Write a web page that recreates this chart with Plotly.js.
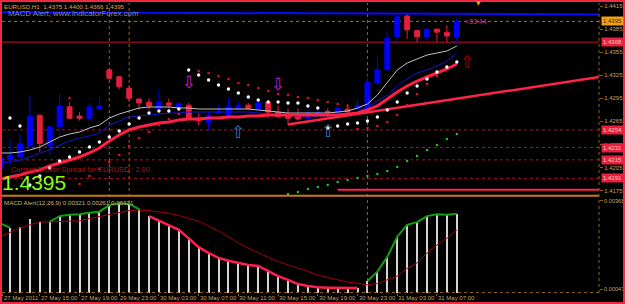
<!DOCTYPE html>
<html><head><meta charset="utf-8">
<script src="https://cdn.plot.ly/plotly-3.0.1.min.js"></script>
<style>html,body{margin:0;padding:0;background:#000;}#chart{width:625px;height:304px;}</style>
</head><body><div id="chart"></div>
<script>
// H1 bars, index -1 .. 45 (27 May 2011 11:00 ... 31 May 2011 08:00)
const openP  = [1.4204,1.4215,1.4219,1.4233,1.4273,1.4233,1.4258,1.4284,1.4272,1.4269,1.4282,1.4332,1.4323,1.4308,1.4294,1.4290,1.4282,1.4289,1.4284,1.4286,1.4269,1.4264,1.4276,1.4272,1.4282,1.4286,1.4281,1.4290,1.4277,1.4272,1.4271,1.4269,1.4276,1.4278,1.4277,1.4281,1.4281,1.4280,1.4315,1.4332,1.4375,1.4402,1.4383,1.4375,1.4385,1.4381,1.4375];
const highP  = [1.4221,1.4241,1.4249,1.4299,1.4274,1.4258,1.4302,1.4290,1.4277,1.4289,1.4297,1.4334,1.4324,1.4312,1.4295,1.4295,1.4306,1.4295,1.4290,1.4289,1.4276,1.4277,1.4285,1.4295,1.4290,1.4289,1.4293,1.4292,1.4286,1.4282,1.4282,1.4280,1.4281,1.4282,1.4285,1.4288,1.4293,1.4325,1.4351,1.4383,1.4401,1.4406,1.4384,1.4385,1.4385,1.4390,1.4400];
const lowP   = [1.4202,1.4208,1.4217,1.4233,1.4225,1.4221,1.4245,1.4268,1.4266,1.4269,1.4281,1.4319,1.4307,1.4290,1.4280,1.4280,1.4282,1.4282,1.4280,1.4268,1.4260,1.4255,1.4275,1.4271,1.4282,1.4280,1.4281,1.4269,1.4269,1.4260,1.4266,1.4268,1.4274,1.4271,1.4276,1.4276,1.4280,1.4279,1.4315,1.4332,1.4366,1.4372,1.4368,1.4370,1.4368,1.4368,1.4366];
const closeP = [1.4217,1.4221,1.4236,1.4272,1.4236,1.4258,1.4285,1.4269,1.4269,1.4284,1.4285,1.4321,1.4310,1.4295,1.4289,1.4285,1.4290,1.4286,1.4288,1.4269,1.4266,1.4272,1.4277,1.4284,1.4285,1.4282,1.4289,1.4277,1.4271,1.4269,1.4268,1.4276,1.4277,1.4277,1.4282,1.4278,1.4286,1.4316,1.4332,1.4373,1.4401,1.4384,1.4375,1.4385,1.4381,1.4376,1.4395];

const maFast = [1.42239,1.42239,1.42252,1.42278,1.42317,1.42382,1.42447,1.42486,1.42512,1.42564,1.42603,1.42694,1.42746,1.42785,1.42824,1.42837,1.42837,1.42837,1.42824,1.42824,1.42811,1.42811,1.42811,1.42811,1.42811,1.42811,1.42798,1.42785,1.42772,1.42759,1.42759,1.42759,1.42759,1.42759,1.42772,1.42785,1.42824,1.42876,1.42993,1.43162,1.43318,1.43409,1.43461,1.43513,1.43539,1.43565,1.43630];
const maMid  = [1.42109,1.42122,1.42148,1.42187,1.42239,1.42278,1.42343,1.42395,1.42434,1.42460,1.42499,1.42603,1.42655,1.42707,1.42720,1.42733,1.42746,1.42759,1.42759,1.42772,1.42772,1.42772,1.42772,1.42772,1.42772,1.42772,1.42759,1.42746,1.42733,1.42733,1.42720,1.42720,1.42720,1.42720,1.42733,1.42746,1.42772,1.42837,1.42915,1.42993,1.43110,1.43201,1.43279,1.43318,1.43370,1.43435,1.43539];
const maSlow = [1.41901,1.41927,1.41953,1.41992,1.42018,1.42070,1.42109,1.42148,1.42187,1.42239,1.42304,1.42395,1.42473,1.42538,1.42577,1.42603,1.42629,1.42642,1.42668,1.42681,1.42681,1.42694,1.42694,1.42707,1.42707,1.42720,1.42720,1.42733,1.42733,1.42733,1.42733,1.42733,1.42733,1.42733,1.42733,1.42746,1.42759,1.42798,1.42850,1.42941,1.43032,1.43110,1.43175,1.43227,1.43279,1.43331,1.43396];

const sarWhite = [1.42772,1.42694,1.42590,1.41823,1.41940,1.42044,1.42135,1.42187,1.42252,1.42317,1.42382,1.42447,1.42525,1.42616,1.42694,1.42759,1.42785,1.42785,1.42811,1.43318,1.43253,1.43188,1.43123,1.43071,1.43019,1.42967,1.42928,1.42902,1.42902,1.42889,1.42889,1.42850,1.42824,1.42564,1.42590,1.42616,1.42629,1.42655,1.42707,1.42798,1.42902,1.43019,1.43110,1.43201,1.43292,1.43357,1.43422];
const sarRed = [null,null,null,null,null,null,null,1.42954,1.41836,1.41940,1.42031,1.42122,1.42213,1.42330,1.42434,1.42512,1.42603,1.42681,1.42746,null,1.43305,1.43279,1.43240,1.43201,1.43149,1.43123,1.43084,1.43045,1.43006,1.42993,1.42967,1.42954,1.42928,1.42902,1.42876,1.42850,1.42551,1.42564,1.42590,1.42642,1.42733,1.42863,1.43006,1.43136,1.43240,null,null];
const greenDots = [null,null,null,null,null,null,null,null,null,null,null,null,null,null,null,null,null,null,null,null,null,null,null,null,null,null,null,null,null,1.41706,1.41732,1.41771,1.41797,1.41823,1.41862,1.41888,1.41914,1.41940,1.41966,1.42005,1.42057,1.42135,1.42200,1.42278,1.42343,1.42421,1.42486];

const macdMain = [0.00286,0.00270,0.00273,0.00300,0.00290,0.00292,0.00312,0.00317,0.00319,0.00324,0.00328,0.00352,0.00359,0.00356,0.00337,0.00312,0.00295,0.00280,0.00262,0.00231,0.00199,0.00178,0.00160,0.00150,0.00143,0.00134,0.00131,0.00112,0.00094,0.00080,0.00065,0.00058,0.00053,0.00052,0.00051,0.00051,0.00051,0.00076,0.00110,0.00164,0.00237,0.00280,0.00290,0.00312,0.00319,0.00317,0.00321];
const macdSignal = [0.00237,0.00254,0.00269,0.00280,0.00291,0.00291,0.00292,0.00294,0.00295,0.00303,0.00310,0.00318,0.00326,0.00332,0.00334,0.00332,0.00327,0.00322,0.00314,0.00305,0.00294,0.00276,0.00258,0.00236,0.00214,0.00196,0.00178,0.00162,0.00147,0.00134,0.00123,0.00111,0.00098,0.00089,0.00080,0.00072,0.00068,0.00062,0.00067,0.00080,0.00094,0.00122,0.00142,0.00177,0.00207,0.00231,0.00261];
const macdState = ['g','g','','','','g','g','g','g','g','g','g','g','g','g','r','r','r','r','r','r','r','r','r','r','r','r','r','r','r','r','r','r','r','r','r','r','g','g','g','g','g','g','g','g','g','g'];

const xTickIdx  = [-0.75, 3, 7, 11, 15, 19, 23, 27, 31, 35, 39, 43];
const xTickText = ['27 May 2011','27 May 15:00','27 May 19:00','29 May 23:00','30 May 03:00','30 May 07:00','30 May 11:00','30 May 15:00','30 May 19:00','30 May 23:00','31 May 03:00','31 May 07:00'];
const priceTicks = [1.4415,1.4385,1.4355,1.4325,1.4295,1.4265,1.4235,1.4205,1.4175];
const macdTicks = [0.00368, 0.00047];
const daySeparators = [10, 12, 36];

const sellIdx = [18, 27];   const sellPrice = [1.43168, 1.43136];
const buyIdx  = [23, 32];   const buyPrice  = [1.42518, 1.42525];
const exitIdx = [46];       const exitPrice = [1.43428];

const bidPrice = 1.4395;
const redLevel = 1.4368;
const dashedLevels = [1.4254, 1.4231, 1.4215, 1.4191];
const blueLineIdx = [-1, 60];   const blueLinePrice = [1.4407, 1.4404];
const lowLineIdx = [33, 60];    const lowLinePrice = [1.4176, 1.4176];
const trendIdx = [28, 60];      const trendPrice = [1.4261, 1.4324];
const countdownIdx = 45.6;      const countdownText = '<33:44';

const bars = openP.map((_, i) => i - 1);
const FONT = 'Liberation Sans, Arial, sans-serif';

const traces = [
  {type:'candlestick', x:bars, open:openP, high:highP, low:lowP, close:closeP, xaxis:'x', yaxis:'y',
   whiskerwidth:0,
   increasing:{line:{color:'#0000ff', width:1}, fillcolor:'#0000ff'},
   decreasing:{line:{color:'#e61e3c', width:1}, fillcolor:'#e61e3c'}, hoverinfo:'skip'},
  {type:'scatter', mode:'lines', x:blueLineIdx, y:blueLinePrice, line:{color:'#0a0aff', width:2}, yaxis:'y'},
  {type:'scatter', mode:'lines', x:lowLineIdx, y:lowLinePrice, line:{color:'#ff2050', width:2}, yaxis:'y'},
  {type:'scatter', mode:'lines', x:trendIdx, y:trendPrice, line:{color:'#ff2448', width:2.5}, yaxis:'y'},
  {type:'scatter', mode:'lines', x:bars, y:maFast, line:{color:'#c0c0c0', width:1}, yaxis:'y'},
  {type:'scatter', mode:'lines', x:bars, y:maMid, line:{color:'#1414d0', width:1}, yaxis:'y'},
  {type:'scatter', mode:'lines', x:bars, y:maSlow, line:{color:'#ff1f44', width:3}, yaxis:'y'},
  {type:'scatter', mode:'markers', x:bars, y:sarRed, marker:{color:'#e0102c', size:2.6}, yaxis:'y'},
  {type:'scatter', mode:'markers', x:bars, y:sarWhite, marker:{color:'#ffffff', size:3.4}, yaxis:'y'},
  {type:'scatter', mode:'markers', x:bars, y:greenDots, marker:{color:'#22c822', size:2.4}, yaxis:'y'},
  {type:'bar', x:bars, y:macdMain, width:0.2, marker:{color:'#d4d4d4', line:{width:0}}, xaxis:'x', yaxis:'y2'},
  {type:'scatter', mode:'lines', x:bars, y:macdSignal, line:{color:'#a0000c', width:1}, yaxis:'y2'},
  {type:'scatter', mode:'lines', x:bars, y:macdMain.map((v,i)=> macdState[i]==='g' ? v : null), line:{color:'#10a010', width:2}, yaxis:'y2', connectgaps:false},
  {type:'scatter', mode:'lines', x:bars, y:macdMain.map((v,i)=> macdState[i]==='r' ? v : null), line:{color:'#ff2050', width:2.5}, yaxis:'y2', connectgaps:false}
];

// pixel helpers for paper-placed decorations (plot area x 2..599, y 3..293)
const px = v => (v - 2) / 597;
const py = v => (293 - v) / 290;

const shapes = [];
daySeparators.forEach(s => shapes.push({type:'line', xref:'x', yref:'paper', x0:s, x1:s, y0:0, y1:1, layer:'below', line:{color:'#9a6418', width:1, dash:'dot'}}));
shapes.push({type:'line', xref:'paper', yref:'y', x0:0, x1:1, y0:bidPrice, y1:bidPrice, layer:'below', line:{color:'#a87420', width:1, dash:'dot'}});
shapes.push({type:'line', xref:'paper', yref:'y', x0:0, x1:1, y0:redLevel, y1:redLevel, layer:'below', line:{color:'#c8102e', width:1}});
dashedLevels.forEach(l => shapes.push({type:'line', xref:'paper', yref:'y', x0:0, x1:1, y0:l, y1:l, layer:'below', line:{color:'#b0102a', width:1, dash:'3px,3px'}}));
shapes.push({type:'line', xref:'paper', yref:'paper', x0:0, x1:1, y0:py(195.8), y1:py(195.8), line:{color:'#c87814', width:2}});
shapes.push({type:'line', xref:'paper', yref:'paper', x0:1, x1:1, y0:0, y1:1, line:{color:'#8a6020', width:1, dash:'dot'}});
shapes.push({type:'line', xref:'paper', yref:'paper', x0:0, x1:1, y0:py(292.5), y1:py(292.5), line:{color:'#8a6020', width:1, dash:'dot'}});
shapes.push({type:'rect', xref:'paper', yref:'paper', x0:px(1), x1:px(624), y0:py(303), y1:py(1), line:{color:'#f02840', width:2}});

const annotations = [
  {xref:'paper', yref:'paper', x:px(2), y:py(6.3), xanchor:'left', yanchor:'middle', showarrow:false, text:'EURUSD,H1  1.4375 1.4400 1.4366 1.4395', font:{family:FONT, size:6.2, color:'#e0a040'}},
  {xref:'paper', yref:'paper', x:px(6), y:py(13.3), xanchor:'left', yanchor:'middle', showarrow:false, text:'MACD Alert, www.IndicatorForex.com', font:{family:FONT, size:7.8, color:'#8088b4'}},
  {xref:'paper', yref:'paper', x:px(9), y:py(169.5), xanchor:'left', yanchor:'middle', showarrow:false, text:'Current Broker Spread for EURUSD : 2.00', font:{family:FONT, size:7.4, color:'#a81818'}},
  {xref:'paper', yref:'paper', x:px(0), y:py(182), xanchor:'left', yanchor:'middle', showarrow:false, text:'1.4395', font:{family:FONT, size:21, color:'#84ff10'}},
  {xref:'paper', yref:'paper', x:px(2), y:py(202.7), xanchor:'left', yanchor:'middle', showarrow:false, text:'MACD Alert(12,26,9) 0.00321 0.00261 0.00321', font:{family:FONT, size:6.2, color:'#ccb078'}},
  {xref:'x', yref:'y', x:countdownIdx, y:bidPrice, xanchor:'left', yanchor:'middle', showarrow:false, text:countdownText, font:{family:FONT, size:7, color:'#b838b8'}},
  {xref:'paper', yref:'paper', x:px(478), y:py(2.5), xanchor:'center', yanchor:'middle', showarrow:false, text:'▼', font:{family:'DejaVu Sans', size:6, color:'#f0a000'}},
  {xref:'paper', yref:'y', x:px(601), y:bidPrice, xanchor:'left', yanchor:'middle', showarrow:false, text:bidPrice.toFixed(4), bgcolor:'#f0a018', borderpad:1, font:{family:FONT, size:6, color:'#4a2a00'}},
  {xref:'paper', yref:'y', x:px(601), y:redLevel, xanchor:'left', yanchor:'middle', showarrow:false, text:redLevel.toFixed(4), bgcolor:'#e8203c', borderpad:1, font:{family:FONT, size:6, color:'#ffc8c8'}}
];
dashedLevels.forEach(l => annotations.push({xref:'paper', yref:'y', x:px(601), y:l, xanchor:'left', yanchor:'middle', showarrow:false, text:l.toFixed(4), bgcolor:'#e8203c', borderpad:1, font:{family:FONT, size:6, color:'#ffc8c8'}}));
sellIdx.forEach((s,i) => annotations.push({xref:'x', yref:'y', x:s, y:sellPrice[i], showarrow:false, text:'⇩', font:{family:'DejaVu Sans', size:17, color:'#c020c8'}}));
buyIdx.forEach((s,i) => annotations.push({xref:'x', yref:'y', x:s, y:buyPrice[i], showarrow:false, text:'⇧', font:{family:'DejaVu Sans', size:17, color:'#3a78b8'}}));
exitIdx.forEach((s,i) => annotations.push({xref:'x', yref:'y', x:s, y:exitPrice[i], showarrow:false, text:'⇧', font:{family:'DejaVu Sans', size:17, color:'#a00000'}}));
// time-axis labels, left-aligned at their tick as in the terminal
xTickIdx.forEach((t,i) => annotations.push({xref:'x', yref:'paper', x:t, y:py(298.3), xanchor:'left', yanchor:'middle', showarrow:false, borderpad:0, text:xTickText[i], font:{family:FONT, size:6, color:'#c8a060'}}));

const tickStyle = {ticks:'outside', ticklen:3, tickwidth:1, tickcolor:'#8a6020', tickfont:{family:FONT, size:6, color:'#c8a060'}};
const layout = {
  width:625, height:304,
  margin:{l:2, r:26, t:3, b:11, pad:0},
  paper_bgcolor:'#000', plot_bgcolor:'#000',
  showlegend:false, hovermode:false, bargap:0,
  xaxis:Object.assign({domain:[0,1], range:[-0.806, 59.32], anchor:'y2', showgrid:false, zeroline:false, showline:false,
    tickmode:'array', tickvals:xTickIdx, showticklabels:false, rangeslider:{visible:false}}, tickStyle, {ticklen:2}),
  yaxis:Object.assign({domain:[0.33793,1], range:[1.41693,1.44189], side:'right', anchor:'x', showgrid:false, zeroline:false, showline:false,
    tickmode:'array', tickvals:priceTicks, tickformat:'.4f'}, tickStyle),
  yaxis2:Object.assign({domain:[0,0.328], range:[0.000325,0.003782], side:'right', anchor:'x', showgrid:false, zeroline:false, showline:false,
    tickmode:'array', tickvals:macdTicks, tickformat:'.5f'}, tickStyle, {tickfont:{family:FONT, size:5.6, color:'#c8a060'}}),
  shapes:shapes, annotations:annotations
};
Plotly.newPlot('chart', traces, layout, {staticPlot:true, displayModeBar:false});
</script></body></html>
